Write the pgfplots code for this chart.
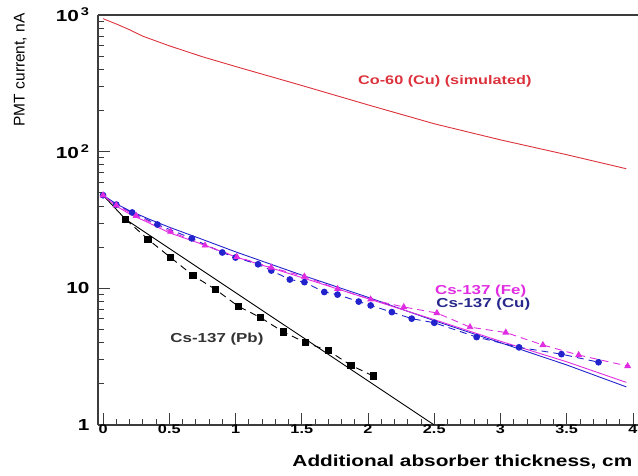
\documentclass[border=0pt]{standalone}
\usepackage{pgfplots}
\pgfplotsset{compat=1.18}
\usepackage{fontspec}
\setmainfont{Liberation Sans}[FakeStretch=1.3]
\newfontfamily\plainsf{Liberation Sans}

\definecolor{cored}{RGB}{220,50,60}
\definecolor{femag}{RGB}{225,45,225}
\definecolor{cublue}{RGB}{35,35,205}
\definecolor{cunavy}{RGB}{40,40,140}
\definecolor{axgray}{RGB}{60,60,60}

\begin{document}
\begin{tikzpicture}
\begin{axis}[
    scale only axis,
    width=540pt, height=410pt,
    ymode=log,
    xmin=-0.038, xmax=4.038,
    ymin=1, ymax=1000,
    axis x line*=bottom,
    axis y line*=left,
    axis line style={axgray, line width=1.1pt},
    tick style={axgray, line width=0.9pt},
    tick align=inside,
    major tick length=12pt,
    minor tick length=6pt,
    xtick={0,0.5,...,4},
    minor x tick num=4,
    ytick={1,10,100,1000},
    yticklabels={1,10,10\textsuperscript{\,2},10\textsuperscript{\,3}},
    /pgf/number format/assume math mode=true,
    xticklabel style={font=\bfseries\fontsize{12.5}{13}\selectfont, inner sep=1pt, yshift=1pt},
    yticklabel style={font=\bfseries\fontsize{16}{17}\selectfont, xshift=-5pt},
    xlabel={Additional absorber thickness, cm},
    xlabel style={font=\bfseries\fontsize{16}{17}\selectfont, at={(rel axis cs:0.996,-0.102)}, anchor=base east},
    ylabel={PMT current, nA},
    ylabel style={font=\plainsf\fontsize{15.5}{16}\selectfont, at={(rel axis cs:-0.144,0.866)}, anchor=center, rotate=0},
    clip=false,
]
% top frame line (right side is cut off in the original)
\draw[axgray, line width=1.1pt] (rel axis cs:0,1) -- (rel axis cs:1,1);

% Co-60 (Cu) simulated
\addplot[cored, line width=0.9pt] coordinates {
 (0,940) (0.1,860) (0.2,780) (0.3,700) (0.5,595) (0.75,495) (1.0,420)
 (1.5,305) (2.0,220) (2.5,160) (3.0,122) (3.5,95) (3.95,75)
};

% fits (solid)
\addplot[black, line width=0.9pt] coordinates {(0,48) (0.17,32) (2.5,1)};
\addplot[cublue, line width=0.9pt] coordinates {
 (0,48) (0.1,41.5) (0.2,37) (0.35,32) (0.5,28) (0.75,22.8) (1.0,18.5)
 (1.5,12.5) (2.0,8.6) (2.5,5.8) (3.0,4.0) (3.5,2.75) (3.95,1.9)
};
\addplot[femag, line width=0.9pt] coordinates {
 (0,48) (0.1,40) (0.2,35) (0.35,30) (0.5,25.5) (0.75,21) (1.0,17)
 (1.5,12) (2.0,8.4) (2.5,5.9) (3.0,4.1) (3.5,2.9) (3.95,2.05)
};

% measured (dashed + marks)
\addplot[black, line width=0.9pt, dash pattern=on 7pt off 5pt,
    mark=square*, mark size=3.2pt, mark options={solid}] coordinates {
 (0.17,32) (0.34,22.8) (0.51,16.8) (0.68,12.4) (0.85,9.8) (1.02,7.4)
 (1.19,6.1) (1.36,4.8) (1.53,4.0) (1.70,3.5) (1.87,2.74) (2.04,2.28)
};
\addplot[cublue, line width=0.9pt, dash pattern=on 7pt off 5pt,
    mark=*, mark size=2.9pt, mark options={solid}] coordinates {
 (0,48) (0.1,41) (0.22,35.9) (0.41,29.3) (0.67,23.2) (0.90,18.3) (1.00,16.8)
 (1.17,15.0) (1.27,13.5) (1.41,11.6) (1.52,11.1) (1.67,9.4) (1.77,9.0)
 (1.93,8.0) (2.02,7.5) (2.18,6.7) (2.33,6.0) (2.50,5.6) (2.82,4.4)
 (3.14,3.7) (3.46,3.3) (3.74,2.88)
};
\addplot[femag, line width=0.9pt, dash pattern=on 7pt off 5pt,
    mark=triangle*, mark size=3.2pt, mark options={solid}] coordinates {
 (0,48) (0.1,40.5) (0.25,34) (0.51,26) (0.77,20.6) (1.01,17.0) (1.27,14.2)
 (1.52,12.2) (1.77,9.9) (2.02,8.3) (2.27,7.3) (2.52,6.6) (2.77,5.2)
 (3.04,4.75) (3.32,3.85) (3.59,3.25) (3.96,2.7)
};

% labels
\node[cored, font=\bfseries\fontsize{12.5}{13}\selectfont] at (axis cs:2.58,325) {Co-60 (Cu) (simulated)};
\node[femag, font=\bfseries\fontsize{13}{14}\selectfont] at (axis cs:2.85,9.6) {Cs-137 (Fe)};
\node[cunavy, font=\bfseries\fontsize{13}{14}\selectfont] at (axis cs:2.87,7.7) {Cs-137 (Cu)};
\node[black!80, font=\bfseries\fontsize{13}{14}\selectfont] at (axis cs:0.86,4.27) {Cs-137 (Pb)};

\coordinate (bbl) at (rel axis cs:-0.1815,-0.122);
\coordinate (btr) at (rel axis cs:1,1.0366);
\end{axis}
\pgfresetboundingbox
\path[use as bounding box] (bbl) rectangle (btr);
\end{tikzpicture}
\end{document}
